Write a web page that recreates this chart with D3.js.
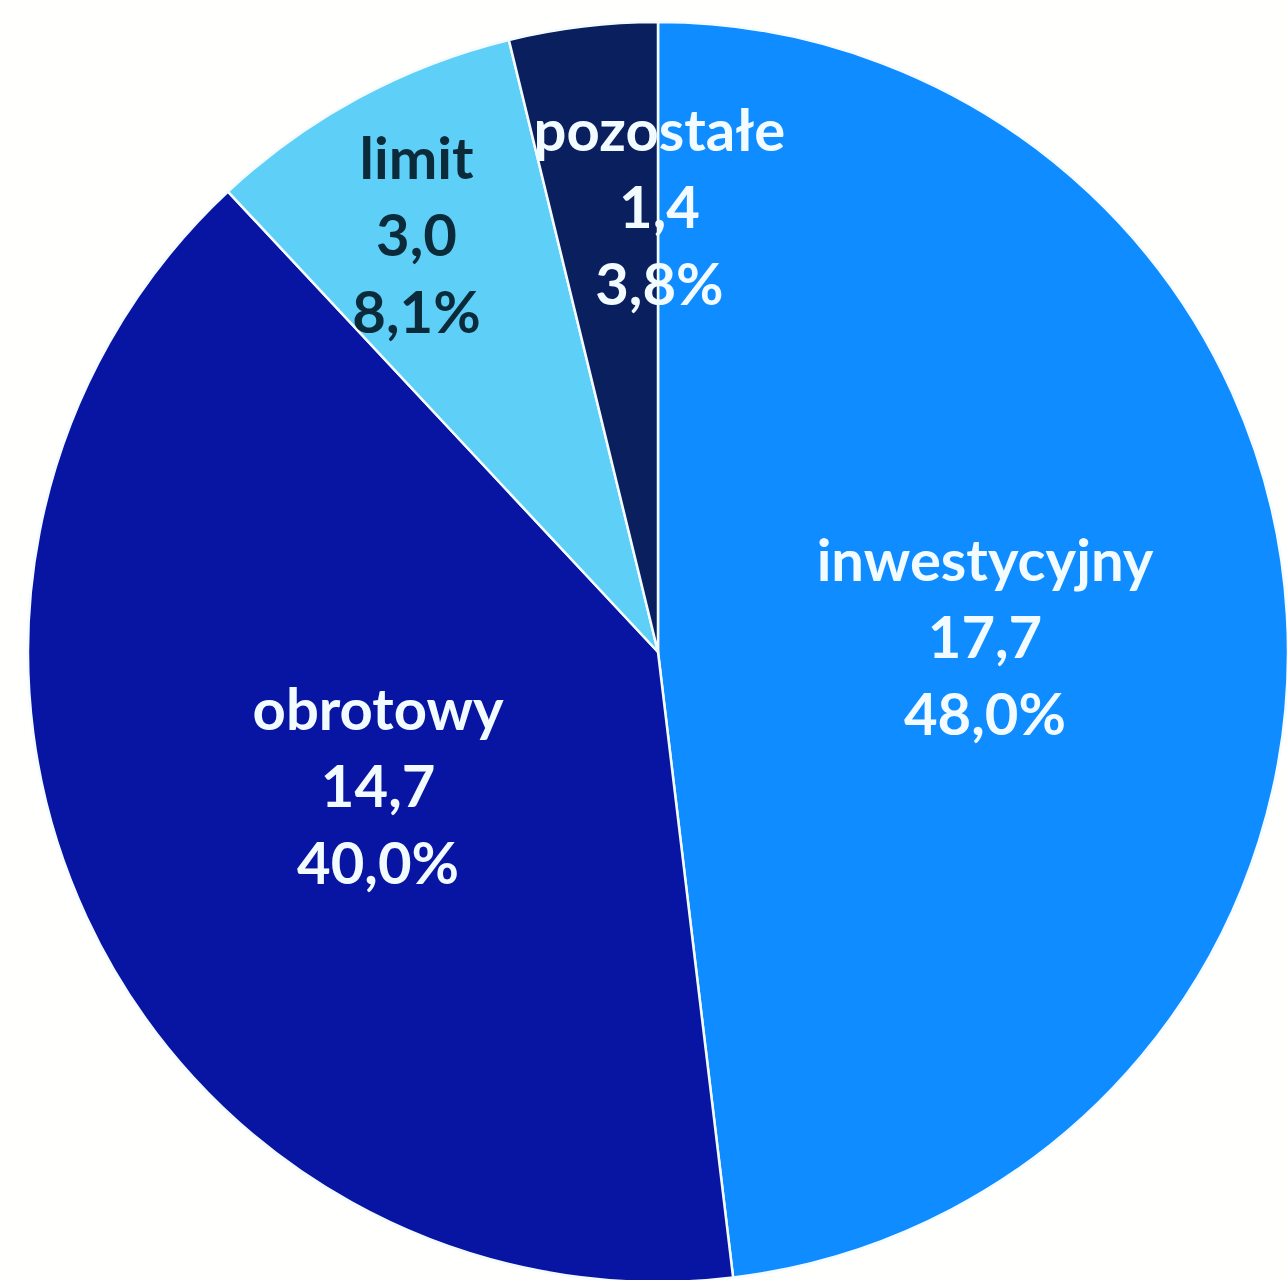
<!DOCTYPE html>
<html><head><meta charset="utf-8">
<script src="https://cdn.jsdelivr.net/npm/d3@7"></script>
<style>html,body{margin:0;padding:0;background:#fffffd;overflow:hidden}</style>
</head><body>
<svg id="chart" width="1287" height="1280"></svg>
<script>
const categories = ["inwestycyjny", "obrotowy", "limit", "pozostałe"];
const values = [17.7, 14.7, 3.0, 1.4];
const valueLabels = ["17,7", "14,7", "3,0", "1,4"];
const percentLabels = ["48,0%", "40,0%", "8,1%", "3,8%"];
const colors = ["#0f8cff", "#0815a2", "#5ecff7", "#0a1f5e"];
const textColors = ["#f2fbff", "#f2fbff", "#0b2a3a", "#f2fbff"];
// label placement: radius fraction along the slice's mid-angle, plus a nudge
const labelRadius = [0.52, 0.49, 0.76, 0.70];
const labelNudgeX = [0, 0, -14, 54];
const labelNudgeY = [5, 5, 5, -6];

const W = 1287, H = 1280;
const cx = 658, cy = 652, R = 630;
const svg = d3.select("#chart");
const g = svg.append("g").attr("transform", `translate(${cx},${cy})`);

const data = categories.map((c, i) => ({cat: c, value: values[i], i}));
const pie = d3.pie().sort(null).value(d => d.value);
const arcs = pie(data);
const arc = d3.arc().innerRadius(0).outerRadius(R);

g.selectAll("path.slice").data(arcs).enter().append("path")
  .attr("class", "slice")
  .attr("d", arc)
  .attr("fill", d => colors[d.data.i])
  .attr("stroke", "#f4fbff")
  .attr("stroke-width", 2.5)
  .attr("stroke-linejoin", "round");

const fs = 58, lh = 77;
arcs.forEach(a => {
  const i = a.data.i;
  const la = d3.arc().innerRadius(R * labelRadius[i]).outerRadius(R * labelRadius[i]);
  let [x, y] = la.centroid(a);
  x += labelNudgeX[i]; y += labelNudgeY[i];
  const lines = [categories[i], valueLabels[i], percentLabels[i]];
  const t = g.append("text")
    .attr("text-anchor", "middle")
    .attr("font-family", "Lato, 'Open Sans', sans-serif")
    .attr("font-weight", "bold")
    .attr("font-size", fs)
    .attr("fill", textColors[i]);
  lines.forEach((l, k) => {
    t.append("tspan").attr("x", x).attr("y", y + (k - 1) * lh)
      .attr("dy", "0.35em").text(l);
  });
});
</script>
</body></html>
